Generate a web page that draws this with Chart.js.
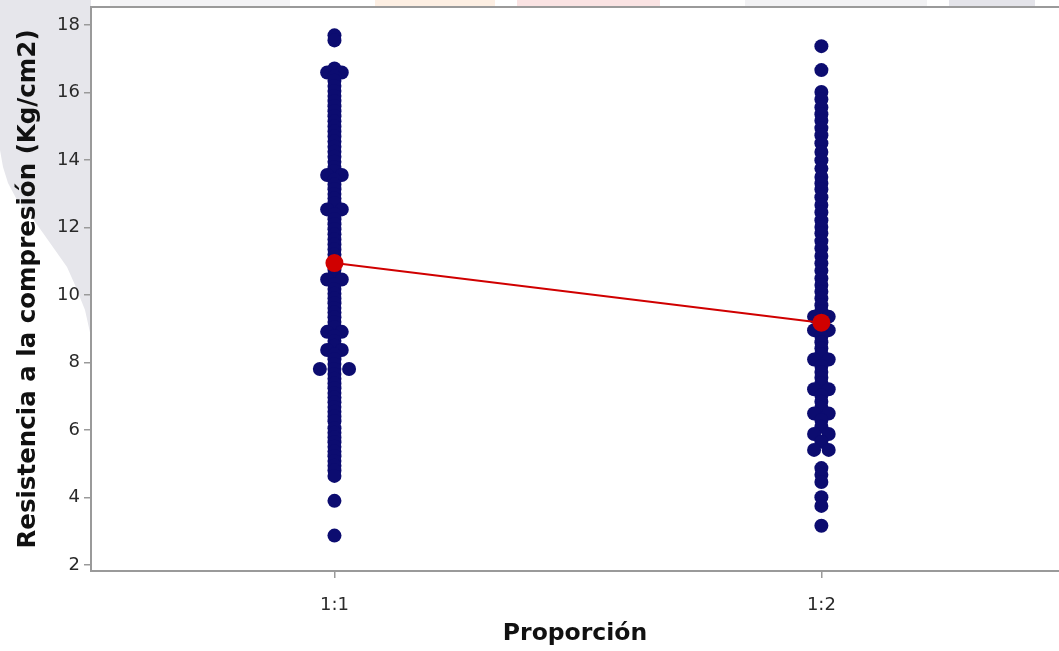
<!DOCTYPE html>
<html>
<head>
<meta charset="utf-8">
<script src="https://cdn.jsdelivr.net/npm/chart.js@4.4.1/dist/chart.umd.min.js"></script>
<style>
  html, body { margin: 0; padding: 0; background: #ffffff; overflow: hidden; }
  #wrap { position: relative; width: 1059px; height: 651px; }
  .tint { position: absolute; }
  /* soft page tints sitting behind the chart */
  #wedge {
    left: 0; top: 0; width: 91px; height: 340px; background: #e6e6eb;
    clip-path: polygon(0px 0px, 91px 0px, 91px 337px, 85px 310px, 75px 285px, 67px 267px,
                       55px 250px, 43px 233px, 30px 215px, 17px 200px, 8px 183px, 3px 167px, 0px 150px);
  }
  #t1 { left: 110px; top: 0; width: 180px; height: 6px; background: #f3f3f5; }
  #t2 { left: 375px; top: 0; width: 120px; height: 6px; background: #fdefe3; }
  #t3 { left: 517px; top: 0; width: 143px; height: 6px; background: #fae3e3; }
  #t4 { left: 745px; top: 0; width: 182px; height: 6px; background: #f2f2f4; }
  #t5 { left: 949px; top: 0; width: 86px; height: 6px; background: #e4e4ea; }
  canvas { position: absolute; left: 0; top: 0; }
</style>
</head>
<body>
<div id="wrap">
  <div class="tint" id="wedge"></div>
  <div class="tint" id="t1"></div>
  <div class="tint" id="t2"></div>
  <div class="tint" id="t3"></div>
  <div class="tint" id="t4"></div>
  <div class="tint" id="t5"></div>
  <canvas id="chart" width="1059" height="651"></canvas>
</div>
<script>
// Mix proportions on the x axis
const categories = ['1:1', '1:2'];

// Value ticks on the y axis
const yTickValues = [2, 4, 6, 8, 10, 12, 14, 16, 18];

// Individual compressive-strength results (Kg/cm2), proportion 1:1
const strength11 = [
  17.70, 17.55,
  16.72, 16.60, 16.60, 16.48, 16.35, 16.20, 16.05, 15.90, 15.75, 15.60, 15.45, 15.30,
  15.15, 15.00, 14.85, 14.70, 14.55, 14.40, 14.25, 14.10, 13.95, 13.80, 13.68,
  13.56, 13.56, 13.42, 13.28, 13.14, 13.00, 12.86, 12.72, 12.54, 12.54, 12.40,
  12.25, 12.10, 11.95, 11.80, 11.65, 11.50, 11.35, 11.20, 11.05, 10.90, 10.75,
  10.60, 10.46, 10.46, 10.32, 10.18, 10.04, 9.90, 9.76, 9.62, 9.48, 9.34, 9.20,
  9.05, 8.91, 8.91, 8.78, 8.64, 8.50, 8.37, 8.37, 8.24, 8.10, 7.96,
  7.81, 7.81, 7.81, 7.66, 7.52, 7.38, 7.24, 7.10, 6.96, 6.82, 6.68, 6.54, 6.40,
  6.26, 6.05, 5.92, 5.78, 5.64, 5.50, 5.36, 5.22, 5.08, 4.94, 4.80, 4.64,
  3.90, 2.87
];

// Individual compressive-strength results (Kg/cm2), proportion 1:2
const strength12 = [
  17.38, 16.67,
  16.02, 15.80, 15.56, 15.36, 15.17, 14.95, 14.74, 14.50, 14.24, 14.00, 13.75,
  13.50, 13.31, 13.13, 12.90, 12.67, 12.45, 12.22, 12.02, 11.83, 11.60, 11.38,
  11.16, 10.94, 10.72, 10.49, 10.30, 10.10, 9.90, 9.70, 9.52, 9.36, 9.36, 9.20,
  8.96, 8.96, 8.78, 8.60, 8.42, 8.25, 8.09, 8.09, 7.90, 7.72, 7.55, 7.38,
  7.21, 7.21, 7.02, 6.84, 6.66, 6.49, 6.49, 6.30, 6.10, 5.88, 5.88, 5.65,
  5.41, 5.41, 4.87, 4.67, 4.46, 4.01, 3.75, 3.16
];

// Group means
const meanStrength = [10.95, 9.18];

// Horizontal step (in x units) between tied values, dot-plot style
const DOT_STEP = 0.03;

function dotColumn(values, xCenter) {
  const counts = {};
  values.forEach(v => { counts[v] = (counts[v] || 0) + 1; });
  const seen = {};
  return values.map(v => {
    const n = counts[v];
    const i = seen[v] = (seen[v] === undefined ? 0 : seen[v] + 1);
    return { x: xCenter + (i - (n - 1) / 2) * DOT_STEP, y: v };
  });
}

const points = dotColumn(strength11, 1).concat(dotColumn(strength12, 2));
const means = meanStrength.map((v, i) => ({ x: i + 1, y: v }));

const AXIS_GREY = '#9a9a9a';
const tickFont = { family: 'DejaVu Sans', size: 18, weight: 'normal' };
const xTitleFont = { family: 'DejaVu Sans', size: 23.5, weight: 'bold' };
const yTitleFont = { family: 'DejaVu Sans', size: 24.5, weight: 'bold' };

// Top edge of the plot frame
const frameTop = {
  id: 'frameTop',
  beforeDatasetsDraw(chart) {
    const { ctx, chartArea } = chart;
    ctx.save();
    ctx.strokeStyle = AXIS_GREY;
    ctx.lineWidth = 2;
    ctx.beginPath();
    ctx.moveTo(chartArea.left - 1, chartArea.top);
    ctx.lineTo(chartArea.right, chartArea.top);
    ctx.stroke();
    ctx.restore();
  }
};

new Chart(document.getElementById('chart'), {
  type: 'scatter',
  data: {
    datasets: [
      {
        label: 'Media',
        data: means,
        showLine: true,
        borderColor: '#d00000',
        borderWidth: 2,
        backgroundColor: '#d00000',
        pointBackgroundColor: '#d00000',
        pointBorderWidth: 0,
        pointRadius: 9,
        order: 0
      },
      {
        label: 'Resistencia',
        data: points,
        backgroundColor: '#0c0c70',
        pointBackgroundColor: '#0c0c70',
        pointBorderWidth: 0,
        pointRadius: 7,
        order: 1
      }
    ]
  },
  options: {
    responsive: false,
    animation: false,
    devicePixelRatio: 1,
    layout: { autoPadding: false, padding: { top: 7, left: 0, right: 0, bottom: 0 } },
    plugins: { legend: { display: false }, tooltip: { enabled: false } },
    scales: {
      x: {
        type: 'linear',
        min: 0.5,
        max: 2.488,
        afterBuildTicks: s => { s.ticks = categories.map((c, i) => ({ value: i + 1 })); },
        afterFit: s => { s.height = 80; s.paddingLeft = 0; s.paddingRight = 0; },
        ticks: {
          callback: (v, i) => categories[i],
          font: tickFont, color: '#2a2a2a', padding: 17,
          maxRotation: 0, autoSkip: false
        },
        grid: { drawOnChartArea: false, drawTicks: true, tickLength: 7, color: AXIS_GREY, lineWidth: 1.5 },
        border: { color: AXIS_GREY, width: 2 },
        title: {
          display: true, text: 'Proporción', font: xTitleFont, color: '#111',
          padding: { top: 0, bottom: 3 }
        }
      },
      y: {
        min: 1.82,
        max: 18.54,
        afterBuildTicks: s => { s.ticks = yTickValues.map(v => ({ value: v })); },
        afterFit: s => { s.width = 91; s.paddingTop = 0; s.paddingBottom = 0; },
        ticks: { font: tickFont, color: '#2a2a2a', padding: 4 },
        grid: { drawOnChartArea: false, drawTicks: true, tickLength: 7, color: AXIS_GREY, lineWidth: 1.5 },
        border: { color: AXIS_GREY, width: 2 },
        title: {
          display: true, text: 'Resistencia a la compresión (Kg/cm2)', font: yTitleFont, color: '#111',
          padding: { top: 14, bottom: 0 }
        }
      }
    }
  },
  plugins: [frameTop]
});
</script>
</body>
</html>
